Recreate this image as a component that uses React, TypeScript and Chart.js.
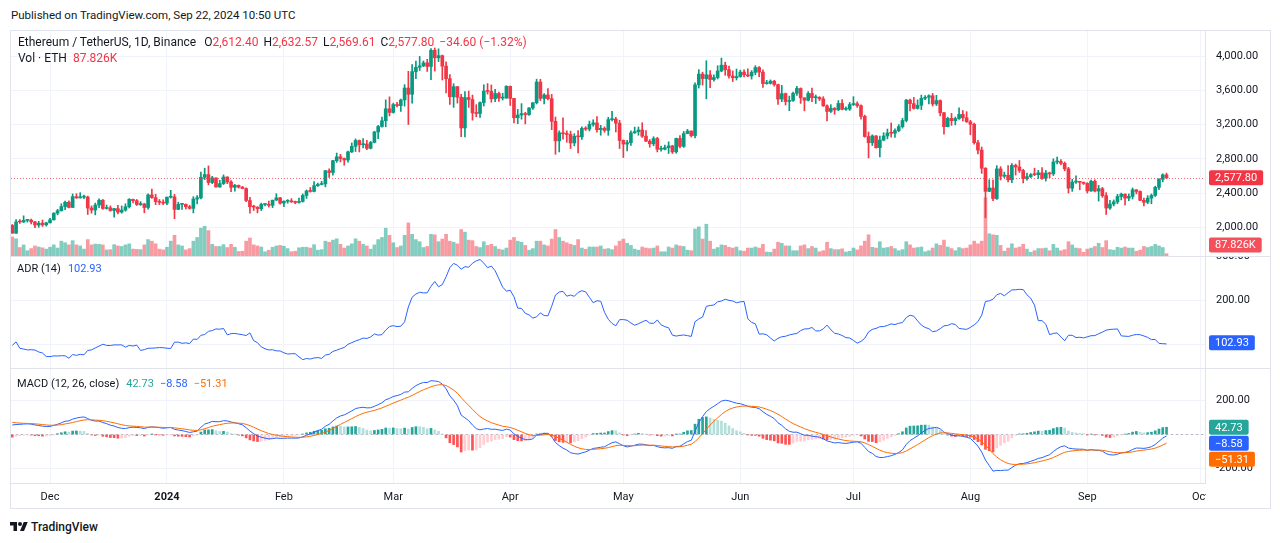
import React, { useEffect, useRef } from "react";
import { Chart, registerables } from "chart.js";

Chart.register(...registerables);

// ---------------- DATA: ETH/USDT daily candles, 2023-11-21 .. 2024-09-22 ----------------
const opens = [
  2022, 1931, 2063, 2062, 2081, 2084, 2063, 2027, 2048, 2029,
  2052, 2087, 2165, 2193, 2242, 2293, 2232, 2358, 2344, 2352, 2353, 2225, 2202, 2260, 2316, 2220, 2228, 2196, 2218, 2177, 2201, 2240, 2326, 2311, 2266, 2272, 2231, 2378, 2347, 2300, 2292,
  2282, 2352, 2356, 2209, 2268, 2268, 2240, 2221, 2330, 2344, 2584, 2616, 2523, 2577, 2471, 2510, 2587, 2529, 2467, 2490, 2469, 2453, 2313, 2241, 2236, 2217, 2267, 2268, 2257, 2317, 2344,
  2282, 2304, 2309, 2297, 2290, 2302, 2372, 2424, 2419, 2486, 2500, 2507, 2660, 2640, 2778, 2823, 2803, 2786, 2881, 2945, 3014, 2964, 2972, 2922, 2991, 3113, 3177, 3244, 3384,
  3341, 3433, 3421, 3487, 3626, 3553, 3818, 3868, 3885, 3920, 3878, 4067, 3979, 4004, 3882, 3735, 3524, 3642, 3519, 3160, 3515, 3492, 3336, 3329, 3456, 3590, 3587, 3501, 3562, 3509, 3509,
  3646, 3505, 3279, 3311, 3328, 3316, 3393, 3454, 3696, 3505, 3545, 3502, 3237, 3010, 3103, 3092, 3084, 2985, 3063, 3056, 3155, 3147, 3202, 3219, 3140, 3156, 3132, 3257, 3264, 3216,
  3014, 2972, 2988, 3103, 3117, 3136, 3064, 3006, 2975, 3036, 2911, 2912, 2930, 2950, 2881, 3037, 2945, 3094, 3124, 3071, 3663, 3789, 3736, 3780, 3725, 3749, 3825, 3893, 3841, 3767, 3746,
  3760, 3812, 3780, 3767, 3810, 3865, 3812, 3678, 3681, 3706, 3667, 3497, 3561, 3469, 3481, 3565, 3621, 3512, 3483, 3563, 3513, 3518, 3499, 3418, 3353, 3390, 3371, 3446, 3378, 3380,
  3433, 3443, 3421, 3295, 3060, 2987, 3067, 2930, 3019, 3066, 3101, 3098, 3129, 3175, 3247, 3485, 3444, 3388, 3425, 3506, 3518, 3536, 3440, 3480, 3337, 3175, 3272, 3245, 3270, 3318, 3279,
  3232, 3203, 2988, 2902, 2689, 2420, 2459, 2336, 2682, 2597, 2609, 2555, 2723, 2704, 2663, 2569, 2592, 2615, 2614, 2636, 2573, 2633, 2624, 2763, 2768, 2747, 2683, 2457, 2528, 2528, 2526,
  2513, 2425, 2538, 2423, 2451, 2369, 2225, 2272, 2297, 2360, 2387, 2341, 2361, 2438, 2418, 2315, 2292, 2340, 2372, 2466, 2560, 2612.4,
];
const highs = [
  2033, 2090, 2090, 2134, 2092, 2095, 2070, 2070, 2085, 2060,
  2105, 2170, 2210, 2275, 2305, 2308, 2390, 2392, 2404, 2375, 2365, 2250, 2283, 2333, 2325, 2260, 2250, 2222, 2256, 2250, 2275, 2335, 2330, 2325, 2300, 2280, 2392, 2446, 2386, 2325, 2322,
  2353, 2432, 2385, 2294, 2280, 2273, 2258, 2358, 2370, 2644, 2690, 2717, 2595, 2578, 2548, 2612, 2591, 2545, 2502, 2495, 2478, 2462, 2349, 2258, 2240, 2283, 2275, 2306, 2317, 2392, 2349,
  2309, 2323, 2335, 2306, 2340, 2390, 2436, 2465, 2535, 2515, 2537, 2665, 2683, 2782, 2867, 2852, 2810, 2890, 2985, 3033, 3020, 3035, 3015, 3003, 3122, 3190, 3288, 3488, 3523,
  3450, 3459, 3497, 3666, 3822, 3900, 3942, 3995, 3942, 3961, 4087, 4094, 4084, 4011, 3933, 3782, 3677, 3645, 3552, 3586, 3590, 3544, 3432, 3466, 3664, 3678, 3662, 3610, 3578, 3566, 3654,
  3650, 3507, 3377, 3444, 3343, 3398, 3457, 3729, 3728, 3560, 3619, 3552, 3288, 3126, 3278, 3127, 3123, 3093, 3128, 3172, 3175, 3240, 3256, 3293, 3190, 3173, 3285, 3355, 3285, 3250,
  3020, 3015, 3127, 3170, 3171, 3221, 3130, 3025, 3058, 3051, 2948, 2960, 2998, 2958, 3042, 3070, 3120, 3144, 3126, 3686, 3841, 3811, 3945, 3830, 3780, 3887, 3976, 3929, 3882, 3826, 3848,
  3835, 3840, 3850, 3830, 3887, 3878, 3840, 3716, 3721, 3716, 3673, 3657, 3568, 3532, 3580, 3645, 3628, 3512, 3585, 3627, 3545, 3525, 3525, 3429, 3432, 3397, 3480, 3492, 3408, 3458,
  3525, 3465, 3430, 3310, 3113, 3080, 3070, 3065, 3105, 3147, 3218, 3150, 3200, 3273, 3494, 3498, 3517, 3488, 3544, 3539, 3546, 3563, 3541, 3488, 3342, 3286, 3330, 3287, 3395, 3363, 3350,
  3249, 3218, 3015, 2937, 2697, 2555, 2550, 2720, 2708, 2644, 2720, 2743, 2738, 2780, 2678, 2632, 2628, 2690, 2665, 2697, 2664, 2645, 2800, 2820, 2792, 2763, 2700, 2560, 2600, 2530, 2528,
  2521, 2550, 2553, 2490, 2466, 2405, 2315, 2320, 2385, 2400, 2390, 2390, 2460, 2440, 2425, 2340, 2370, 2390, 2480, 2570, 2625, 2632.57,
];
const lows = [
  1930, 1930, 2045, 2056, 2060, 2040, 1995, 2000, 2010, 2015,
  2050, 2085, 2145, 2190, 2205, 2225, 2230, 2337, 2340, 2335, 2150, 2165, 2145, 2230, 2210, 2212, 2188, 2118, 2157, 2165, 2188, 2225, 2285, 2255, 2255, 2170, 2211, 2338, 2265, 2265, 2265,
  2265, 2341, 2100, 2205, 2208, 2213, 2212, 2168, 2272, 2332, 2557, 2496, 2509, 2470, 2467, 2499, 2510, 2416, 2422, 2458, 2450, 2300, 2165, 2196, 2168, 2196, 2250, 2236, 2230, 2314, 2270,
  2240, 2281, 2290, 2275, 2281, 2294, 2337, 2410, 2414, 2476, 2495, 2472, 2582, 2610, 2758, 2763, 2725, 2760, 2872, 2885, 2880, 2928, 2907, 2915, 2985, 3035, 3170, 3173, 3300,
  3333, 3405, 3353, 3415, 3200, 3450, 3734, 3830, 3876, 3820, 3724, 3825, 3935, 3720, 3568, 3436, 3400, 3450, 3057, 3056, 3400, 3251, 3290, 3282, 3416, 3555, 3460, 3468, 3470, 3486, 3506,
  3423, 3220, 3210, 3262, 3207, 3305, 3375, 3440, 3480, 3442, 3487, 3140, 2853, 2880, 3030, 2993, 2920, 2951, 2868, 3025, 3130, 3125, 3180, 3111, 3075, 3110, 3074, 3241, 3113, 2920,
  2815, 2893, 2955, 3096, 3075, 3050, 3000, 2935, 2952, 2880, 2890, 2905, 2862, 2862, 2866, 2928, 2933, 3092, 3054, 3045, 3626, 3660, 3500, 3631, 3705, 3732, 3816, 3775, 3742, 3702, 3720,
  3752, 3756, 3760, 3730, 3782, 3760, 3632, 3670, 3672, 3648, 3435, 3467, 3428, 3362, 3470, 3541, 3447, 3360, 3475, 3467, 3445, 3480, 3412, 3241, 3340, 3320, 3363, 3370, 3366, 3365,
  3422, 3400, 3263, 3052, 2810, 2955, 2925, 2822, 3010, 3033, 3053, 3050, 3115, 3158, 3231, 3360, 3380, 3380, 3375, 3489, 3441, 3416, 3422, 3301, 3087, 3172, 3190, 3196, 3260, 3241, 3225,
  3080, 2970, 2858, 2630, 2111, 2417, 2310, 2325, 2552, 2580, 2530, 2520, 2610, 2641, 2518, 2550, 2580, 2603, 2570, 2560, 2540, 2580, 2605, 2740, 2730, 2660, 2400, 2420, 2513, 2438, 2500,
  2400, 2420, 2412, 2306, 2350, 2150, 2210, 2250, 2275, 2320, 2260, 2310, 2330, 2390, 2310, 2250, 2275, 2275, 2360, 2440, 2530, 2569.61,
];
const closes = [
  1931, 2063, 2062, 2081, 2084, 2063, 2027, 2048, 2029, 2052,
  2087, 2165, 2193, 2242, 2293, 2232, 2358, 2344, 2352, 2353, 2225, 2202, 2260, 2316, 2220, 2228, 2196, 2218, 2177, 2201, 2240, 2326, 2311, 2266, 2272, 2231, 2378, 2347, 2300, 2292, 2282,
  2352, 2356, 2209, 2268, 2268, 2240, 2221, 2330, 2344, 2584, 2616, 2523, 2577, 2471, 2510, 2587, 2529, 2467, 2490, 2469, 2453, 2313, 2241, 2236, 2217, 2267, 2268, 2257, 2317, 2344, 2282,
  2304, 2309, 2297, 2290, 2302, 2372, 2424, 2419, 2486, 2500, 2507, 2660, 2640, 2778, 2823, 2803, 2786, 2881, 2945, 3014, 2964, 2972, 2922, 2991, 3113, 3177, 3244, 3384, 3341,
  3433, 3421, 3487, 3626, 3553, 3818, 3868, 3885, 3920, 3878, 4067, 3979, 4004, 3882, 3735, 3524, 3642, 3519, 3160, 3515, 3492, 3336, 3329, 3456, 3590, 3587, 3501, 3562, 3509, 3509, 3646,
  3505, 3279, 3311, 3328, 3316, 3393, 3454, 3696, 3505, 3545, 3502, 3237, 3010, 3103, 3092, 3084, 2985, 3063, 3056, 3155, 3147, 3202, 3219, 3140, 3156, 3132, 3257, 3264, 3216, 3014,
  2972, 2988, 3103, 3117, 3136, 3064, 3006, 2975, 3036, 2911, 2912, 2930, 2950, 2881, 3037, 2945, 3094, 3124, 3071, 3663, 3789, 3736, 3780, 3725, 3749, 3825, 3893, 3841, 3767, 3746, 3760,
  3812, 3780, 3767, 3810, 3865, 3812, 3678, 3681, 3706, 3667, 3497, 3561, 3469, 3481, 3565, 3621, 3512, 3483, 3563, 3513, 3518, 3499, 3418, 3353, 3390, 3371, 3446, 3378, 3380, 3433,
  3443, 3421, 3295, 3060, 2987, 3067, 2930, 3019, 3066, 3101, 3098, 3129, 3175, 3247, 3485, 3444, 3388, 3425, 3506, 3518, 3536, 3440, 3480, 3337, 3175, 3272, 3245, 3270, 3318, 3279, 3232,
  3203, 2988, 2902, 2689, 2420, 2459, 2336, 2682, 2597, 2609, 2555, 2723, 2704, 2663, 2569, 2592, 2615, 2614, 2636, 2573, 2633, 2624, 2763, 2768, 2747, 2683, 2457, 2528, 2528, 2526, 2513,
  2425, 2538, 2423, 2451, 2369, 2225, 2272, 2297, 2360, 2387, 2341, 2361, 2438, 2418, 2315, 2292, 2340, 2372, 2466, 2560, 2612.4, 2577.8,
];
// volume, thousand ETH
const volumes = [
  720, 650, 320, 420, 200, 280, 380, 340, 310, 260,
  330, 420, 300, 560, 500, 420, 580, 420, 380, 260, 620, 420, 450, 440, 420, 230, 240, 430, 380, 360, 420, 460, 260, 250, 240, 420, 620, 560, 460, 260, 230,
  330, 560, 780, 420, 380, 230, 280, 560, 700, 1050, 1120, 960, 440, 360, 360, 430, 320, 440, 330, 170, 180, 560, 680, 420, 380, 340, 160, 220, 330, 380, 400,
  370, 280, 160, 180, 310, 330, 330, 300, 430, 220, 240, 560, 520, 600, 650, 440, 300, 380, 460, 650, 560, 440, 380, 260, 420, 620, 700, 1050, 780,
  500, 320, 380, 780, 1250, 820, 620, 540, 320, 360, 820, 800, 540, 640, 820, 560, 520, 460, 1000, 900, 600, 580, 360, 320, 540, 400, 440, 360, 260, 230, 300,
  600, 700, 560, 520, 400, 220, 280, 560, 560, 420, 380, 640, 1000, 700, 560, 500, 440, 400, 620, 300, 250, 340, 340, 340, 380, 260, 280, 240, 380, 560,
  640, 480, 400, 260, 220, 340, 300, 280, 300, 380, 160, 160, 340, 300, 420, 380, 360, 220, 200, 1020, 1100, 640, 1200, 560, 260, 320, 420, 400, 330, 300, 340,
  200, 180, 300, 300, 340, 300, 440, 150, 140, 260, 520, 480, 380, 380, 200, 200, 380, 420, 280, 360, 300, 160, 200, 520, 280, 240, 240, 270, 150, 180,
  300, 230, 380, 560, 800, 330, 300, 540, 300, 320, 360, 280, 200, 240, 540, 420, 300, 320, 340, 160, 200, 300, 460, 400, 600, 340, 280, 200, 320, 280, 300,
  420, 560, 460, 560, 2200, 840, 800, 780, 400, 180, 300, 460, 300, 340, 440, 260, 140, 200, 280, 280, 300, 200, 440, 300, 200, 240, 540, 420, 300, 280, 140,
  260, 300, 360, 480, 320, 580, 240, 220, 330, 300, 340, 300, 300, 180, 220, 360, 320, 360, 440, 380, 320, 87.826,
];

// history before the first visible candle (only used to warm up the indicators)
const preCloses = [
  1628, 1636, 1634, 1628, 1631, 1635, 1646, 1635, 1636, 1617, 1551, 1593, 1608, 1626, 1641, 1635, 1623, 1638, 1646, 1622, 1584, 1593, 1593, 1581, 1588, 1595, 1598, 1653, 1667, 1671,
  1733, 1664, 1656, 1647, 1611, 1634, 1633, 1634, 1580, 1567, 1565, 1539, 1552, 1556, 1558, 1600, 1567, 1563, 1567, 1603, 1628, 1665, 1787, 1786, 1787, 1803, 1779, 1777, 1793, 1810, 1815,
  1846, 1794, 1833, 1857, 1893, 1899, 1886, 1888, 2122, 2078, 2052, 2045, 2055, 1979, 2057, 1960, 1962, 1963, 2013, 2022,
];
const preHighs = [1900, 2130, 2140, 2090, 2070, 2090, 2070, 2065, 2090, 1990, 1975, 2020, 2065];
const preLows = [1850, 1880, 2040, 2030, 2020, 2005, 1940, 1955, 1935, 1930, 1915, 1950, 1990];

// axes
const monthTickIdx = [10, 41, 72, 101, 132, 162, 193, 223, 254, 285, 315];
const monthLabels = ["Dec", "2024", "Feb", "Mar", "Apr", "May", "Jun", "Jul", "Aug", "Sep", "Oct"];
const priceTicks = [2000, 2400, 2800, 3200, 3600, 4000];
const adrTicks = [100, 200, 300];
const macdTicks = [-200, 0, 200];

// last values shown in legends / badges
const lastPrice = 2577.8;
const lastVolume = 87.826;
const adrLast = 102.93;
const histLast = 42.73;
const macdLast = -8.58;
const signalLast = -51.31;

const headerText = "Published on TradingView.com, Sep 22, 2024 10:50 UTC";
const symbolText = "Ethereum / TetherUS, 1D, Binance";
const ohlcItems = [
  ["O", "2,612.40"],
  ["H", "2,632.57"],
  ["L", "2,569.61"],
  ["C", "2,577.80"],
];
const changeText = "\u221234.60 (\u22121.32%)";

// ---------------- STYLE ----------------
const FONT = "Roboto, 'Noto Sans', Arial, sans-serif";
const TXT = "#131722";
const GRID = "#f0f3fa";
const LINE = "#e0e3eb";
const UP = "#089981";
const DOWN = "#f23645";
const UP_VOL = "rgba(8,153,129,0.5)";
const DOWN_VOL = "rgba(242,54,69,0.5)";
const BLUE = "#2962ff";
const ORANGE = "#ff6d00";
const TEAL = "#26a69a";

const CANVAS_W = 1258;
const AXIS_W = 64;
const X_MIN = -0.345;
const X_MAX = 316.2;
const VOL_MAX = 8500;

// ---------------- derived indicator series ----------------
const idx = closes.map((_, i) => i);
const isUp = closes.map((c, i) => c >= opens[i]);

const allHighs = preHighs.concat(highs);
const allLows = preLows.concat(lows);
const P = preHighs.length;
const adr = closes.map((_, i) => {
  let s = 0;
  for (let k = i + P - 13; k <= i + P; k++) s += allHighs[k] - allLows[k];
  return s / 14;
});

function ema(src: number[], len: number): number[] {
  const a = 2 / (len + 1);
  const out: number[] = [];
  let prev = 0;
  src.forEach((v, i) => {
    prev = i === 0 ? v : a * v + (1 - a) * prev;
    out.push(prev);
  });
  return out;
}
const allCloses = preCloses.concat(closes);
const e12 = ema(allCloses, 12);
const e26 = ema(allCloses, 26);
const macdAll = e12.map((v, i) => v - e26[i]);
const sigAll = ema(macdAll, 9);
const histAll = macdAll.map((v, i) => v - sigAll[i]);
const OFF = preCloses.length;
const macd = macdAll.slice(OFF);
const signal = sigAll.slice(OFF);
const hist = histAll.slice(OFF);
const histColors = hist.map((h, i) => {
  const prev = histAll[OFF + i - 1];
  if (h >= 0) return h > prev ? "#26a69a" : "#b2dfdb";
  return h > prev ? "#ffcdd2" : "#ff5252";
});

// ---------------- helpers ----------------
const fmt2 = (v: number) =>
  v.toLocaleString("en-US", { minimumFractionDigits: 2, maximumFractionDigits: 2 });

function badge(ctx: CanvasRenderingContext2D, x: number, yc: number, text: string, bg: string) {
  ctx.save();
  ctx.font = `11px ${FONT}`;
  const w = ctx.measureText(text).width + 12;
  const h = 15;
  ctx.fillStyle = bg;
  ctx.beginPath();
  if ((ctx as any).roundRect) (ctx as any).roundRect(x, yc - h / 2, w, h, 2);
  else ctx.rect(x, yc - h / 2, w, h);
  ctx.fill();
  ctx.fillStyle = "#ffffff";
  ctx.textBaseline = "middle";
  ctx.textAlign = "left";
  ctx.fillText(text, x + 6, yc + 0.5);
  ctx.restore();
}

function hLine(chart: any, y: number, color: string, dash: number[]) {
  const { ctx, chartArea } = chart;
  ctx.save();
  ctx.strokeStyle = color;
  ctx.lineWidth = 1;
  ctx.setLineDash(dash);
  ctx.beginPath();
  const yy = Math.round(y) + 0.5;
  ctx.moveTo(chartArea.left, yy);
  ctx.lineTo(chartArea.right, yy);
  ctx.stroke();
  ctx.restore();
}

function paneX(): any {
  return {
    type: "linear",
    min: X_MIN,
    max: X_MAX,
    offset: false,
    afterBuildTicks: (s: any) => {
      s.ticks = monthTickIdx.map((v) => ({ value: v }));
    },
    ticks: { display: false },
    grid: { color: GRID, drawTicks: false, offset: false },
    border: { display: false },
    afterFit: (s: any) => {
      s.height = 0;
      s.paddingLeft = 0;
      s.paddingRight = 0;
    },
  };
}

function paneY(min: number, max: number, ticks: number[], hideZero = false): any {
  return {
    position: "right",
    min,
    max,
    afterBuildTicks: (s: any) => {
      s.ticks = ticks.map((v) => ({ value: v }));
    },
    ticks: {
      padding: 11,
      color: TXT,
      font: { family: FONT, size: 11 },
      callback: (v: any) => (hideZero && v === 0 ? "" : fmt2(Number(v))),
    },
    grid: { color: GRID, drawTicks: false },
    border: { color: LINE },
    afterFit: (s: any) => {
      s.width = AXIS_W;
      s.paddingTop = 0;
      s.paddingBottom = 0;
    },
  };
}

const baseOptions = {
  responsive: false,
  animation: false as const,
  events: [] as any[],
  layout: { padding: 0 },
  plugins: { legend: { display: false }, tooltip: { enabled: false } },
};

function priceConfig(): any {
  return {
    type: "bar",
    data: {
      datasets: [
        {
          data: idx.map((i) => ({ x: i, y: volumes[i] })),
          yAxisID: "yVol",
          backgroundColor: idx.map((i) => (isUp[i] ? UP_VOL : DOWN_VOL)),
          barThickness: 3,
          grouped: false,
          order: 3,
        },
        {
          data: idx.map((i) => ({ x: i, y: [lows[i], highs[i]] })),
          yAxisID: "y",
          backgroundColor: idx.map((i) => (isUp[i] ? UP : DOWN)),
          barThickness: 1,
          grouped: false,
          order: 2,
        },
        {
          data: idx.map((i) => ({ x: i, y: [opens[i], closes[i]] })),
          yAxisID: "y",
          backgroundColor: idx.map((i) => (isUp[i] ? UP : DOWN)),
          barThickness: 3,
          minBarLength: 1,
          grouped: false,
          order: 1,
        },
      ],
    },
    options: {
      ...baseOptions,
      scales: {
        x: paneX(),
        y: paneY(1665, 4292, priceTicks),
        yVol: { display: false, min: 0, max: VOL_MAX },
      },
    },
    plugins: [
      {
        id: "priceExtras",
        afterDatasetsDraw(chart: any) {
          const y = chart.scales.y.getPixelForValue(lastPrice);
          hLine(chart, y, "rgba(242,54,69,0.75)", [1, 2]);
        },
        afterDraw(chart: any) {
          const { ctx, chartArea } = chart;
          const x = chartArea.right + 4;
          badge(ctx, x, chart.scales.y.getPixelForValue(lastPrice), fmt2(lastPrice), DOWN);
          const vy = Math.min(chart.scales.yVol.getPixelForValue(lastVolume), chartArea.bottom - 11);
          badge(ctx, x, vy, lastVolume.toFixed(3) + "K", "#f4505c");
        },
      },
    ],
  };
}

function adrConfig(): any {
  return {
    type: "line",
    data: {
      datasets: [
        {
          data: idx.map((i) => ({ x: i, y: adr[i] })),
          borderColor: BLUE,
          borderWidth: 1,
          pointRadius: 0,
          tension: 0,
        },
      ],
    },
    options: {
      ...baseOptions,
      scales: { x: paneX(), y: paneY(45.5, 300, adrTicks) },
    },
    plugins: [
      {
        id: "adrExtras",
        afterDraw(chart: any) {
          const { ctx, chartArea } = chart;
          badge(ctx, chartArea.right + 4, chart.scales.y.getPixelForValue(adrLast), fmt2(adrLast), BLUE);
        },
      },
    ],
  };
}

function macdConfig(): any {
  const x = paneX();
  x.ticks = {
    display: true,
    autoSkip: false,
    maxRotation: 0,
    padding: 8,
    color: TXT,
    font: (c: any) => ({ family: FONT, size: 11, weight: c.index === 1 ? "bold" : "normal" }),
    callback: (_v: any, i: number) => monthLabels[i],
  };
  x.border = { display: true, color: LINE };
  x.afterFit = (s: any) => {
    s.height = 25;
    s.paddingLeft = 0;
    s.paddingRight = 0;
  };
  return {
    type: "bar",
    data: {
      datasets: [
        {
          type: "bar",
          data: idx.map((i) => ({ x: i, y: hist[i] })),
          backgroundColor: histColors,
          barThickness: 2,
          grouped: false,
          order: 3,
        },
        {
          type: "line",
          data: idx.map((i) => ({ x: i, y: macd[i] })),
          borderColor: BLUE,
          borderWidth: 1,
          pointRadius: 0,
          order: 2,
        },
        {
          type: "line",
          data: idx.map((i) => ({ x: i, y: signal[i] })),
          borderColor: ORANGE,
          borderWidth: 1,
          pointRadius: 0,
          order: 1,
        },
      ],
    },
    options: {
      ...baseOptions,
      scales: { x, y: paneY(-287, 393.5, macdTicks, true) },
    },
    plugins: [
      {
        id: "macdExtras",
        beforeDatasetsDraw(chart: any) {
          hLine(chart, chart.scales.y.getPixelForValue(0), "rgba(120,123,134,0.5)", [2, 3]);
        },
        afterDraw(chart: any) {
          const { ctx, chartArea, width } = chart;
          // clip the time-axis label that runs past the plot into the price-scale column
          ctx.save();
          ctx.fillStyle = "#ffffff";
          ctx.fillRect(chartArea.right + 1, chartArea.bottom + 1, width - chartArea.right, 30);
          ctx.restore();
          const yS = chart.scales.y;
          const x0 = chartArea.right + 4;
          const h = 16;
          const y1 = yS.getPixelForValue(histLast);
          const y2 = Math.max(yS.getPixelForValue(macdLast), y1 + h);
          const y3 = Math.max(yS.getPixelForValue(signalLast), y2 + h);
          badge(ctx, x0, y1, fmt2(histLast), TEAL);
          badge(ctx, x0, y2, "\u2212" + fmt2(Math.abs(macdLast)), BLUE);
          badge(ctx, x0, y3, "\u2212" + fmt2(Math.abs(signalLast)), ORANGE);
        },
      },
    ],
  };
}

// ---------------- UI ----------------
function Row(props: { x: number; y: number; size: number; color?: string; weight?: number; children: any }) {
  const h = Math.round(props.size * 1.3);
  return (
    <div
      style={{
        position: "absolute",
        left: props.x,
        top: props.y - h / 2,
        height: h,
        lineHeight: h + "px",
        fontSize: props.size,
        color: props.color || TXT,
        fontWeight: props.weight || 400,
        whiteSpace: "nowrap",
        fontFamily: FONT,
        display: "flex",
      }}
    >
      {props.children}
    </div>
  );
}

export default function App() {
  const priceRef = useRef<HTMLCanvasElement>(null);
  const adrRef = useRef<HTMLCanvasElement>(null);
  const macdRef = useRef<HTMLCanvasElement>(null);

  useEffect(() => {
    const charts = [
      new Chart(priceRef.current as HTMLCanvasElement, priceConfig()),
      new Chart(adrRef.current as HTMLCanvasElement, adrConfig()),
      new Chart(macdRef.current as HTMLCanvasElement, macdConfig()),
    ];
    return () => charts.forEach((c) => c.destroy());
  }, []);

  const canvasStyle = (top: number, height: number): React.CSSProperties => ({
    position: "absolute",
    left: 11,
    top,
    width: CANVAS_W,
    height,
  });

  return (
    <div
      style={{
        position: "absolute",
        left: 0,
        top: 0,
        width: 1280,
        height: 543,
        background: "#ffffff",
        overflow: "hidden",
        fontFamily: FONT,
      }}
    >
      <div
        style={{
          position: "absolute",
          left: 10,
          top: 30,
          width: 1259,
          height: 477,
          border: "1px solid " + LINE,
        }}
      />
      <canvas ref={priceRef} width={CANVAS_W} height={225} style={canvasStyle(31, 225)} />
      <canvas ref={adrRef} width={CANVAS_W} height={112} style={canvasStyle(256, 112)} />
      <canvas ref={macdRef} width={CANVAS_W} height={140} style={canvasStyle(368, 140)} />
      <div style={{ position: "absolute", left: 10, top: 256, width: 1260, height: 1, background: LINE }} />
      <div style={{ position: "absolute", left: 10, top: 368, width: 1260, height: 1, background: LINE }} />

      <Row x={11} y={15} size={11.5}>
        {headerText}
      </Row>

      <Row x={18} y={42} size={12}>
        <span>{symbolText}</span>
        {ohlcItems.map((it, k) => (
          <span key={k} style={{ marginLeft: k === 0 ? 8 : 5 }}>
            {it[0]}
            <span style={{ color: DOWN }}>{it[1]}</span>
          </span>
        ))}
        <span style={{ marginLeft: 5, color: DOWN }}>{changeText}</span>
      </Row>
      <Row x={18} y={58} size={12}>
        <span>{"Vol \u00b7 ETH"}</span>
        <span style={{ marginLeft: 6, color: DOWN }}>{lastVolume.toFixed(3) + "K"}</span>
      </Row>

      <Row x={17} y={269} size={11}>
        <span>ADR (14)</span>
        <span style={{ marginLeft: 7, color: BLUE }}>{fmt2(adrLast)}</span>
      </Row>

      <Row x={17} y={384} size={11}>
        <span>MACD (12, 26, close)</span>
        <span style={{ marginLeft: 7, color: TEAL }}>{fmt2(histLast)}</span>
        <span style={{ marginLeft: 6, color: BLUE }}>{"\u2212" + fmt2(Math.abs(macdLast))}</span>
        <span style={{ marginLeft: 6, color: ORANGE }}>{"\u2212" + fmt2(Math.abs(signalLast))}</span>
      </Row>

      <svg style={{ position: "absolute", left: 10, top: 520 }} width={18} height={14} viewBox="0 0 36 28">
        <path d="M14 22H7V11H0V4h14v18zM28 22h-8l7.5-18h8L28 22z" fill={TXT} />
        <circle cx="20" cy="8" r="4" fill={TXT} />
      </svg>
      <Row x={31} y={527} size={12} weight={500}>
        TradingView
      </Row>
    </div>
  );
}
